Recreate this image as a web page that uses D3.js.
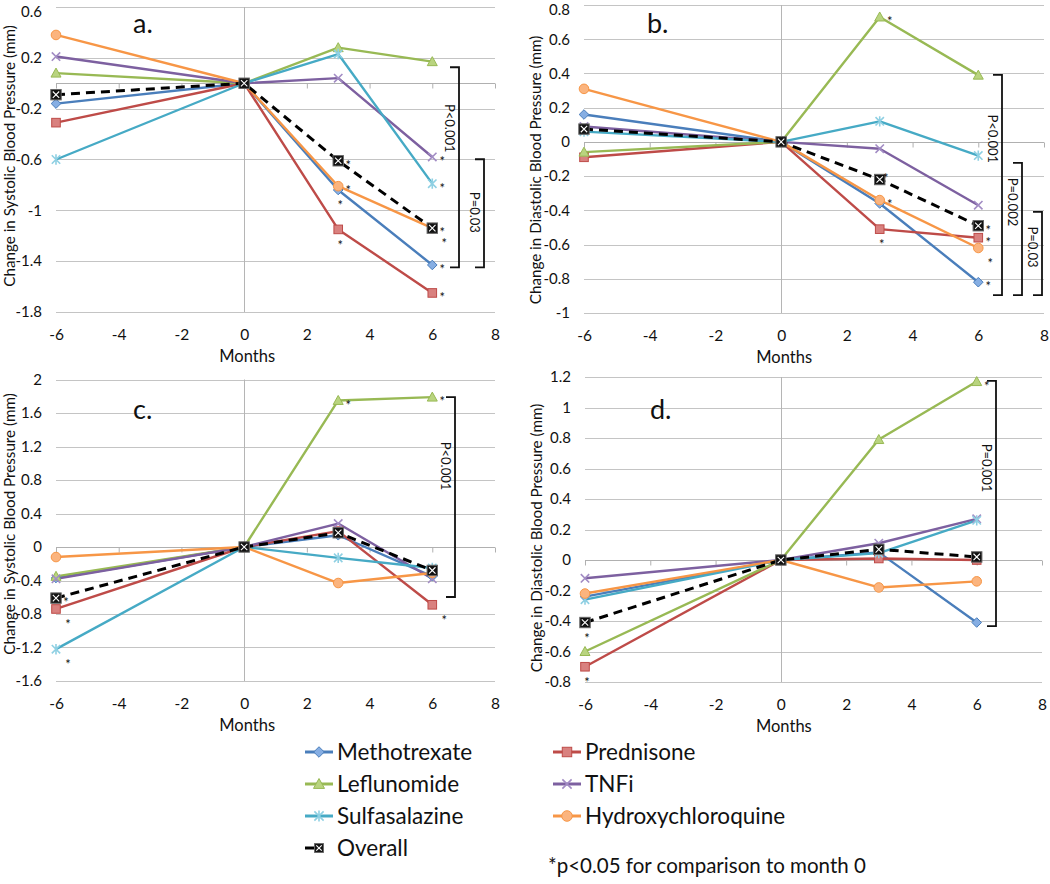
<!DOCTYPE html>
<html>
<head>
<meta charset="utf-8">
<script src="https://cdn.jsdelivr.net/npm/d3@7"></script>
<style>
  html, body { margin: 0; padding: 0; background: #fff; }
  svg { display: block; font-family: Lato, "Open Sans", sans-serif; }
</style>
</head>
<body>
<svg id="chart" width="1050" height="884"></svg>
<script>
// ---------------- DATA ----------------
const months = [-6, 0, 3, 6];
const xTicks = [-6, -4, -2, 0, 2, 4, 6, 8];
const series = ["Methotrexate", "Prednisone", "Leflunomide", "TNFi", "Sulfasalazine", "Hydroxychloroquine", "Overall"];

// Panel a: Systolic, rows follow `series`
const valuesA = [
  [-0.16, 0, -0.84, -1.43],
  [-0.31, 0, -1.15, -1.65],
  [0.08, 0, 0.28, 0.17],
  [0.21, 0, 0.04, -0.58],
  [-0.60, 0, 0.23, -0.79],
  [0.38, 0, -0.81, -1.14],
  [-0.09, 0, -0.61, -1.14]
];
// Panel b: Diastolic
const valuesB = [
  [0.16, 0, -0.36, -0.82],
  [-0.09, 0, -0.51, -0.56],
  [-0.06, 0, 0.73, 0.39],
  [0.09, 0, -0.04, -0.37],
  [0.06, 0, 0.12, -0.08],
  [0.31, 0, -0.34, -0.62],
  [0.075, 0, -0.22, -0.49]
];
// Panel c: Systolic
const valuesC = [
  [-0.37, 0, 0.14, -0.35],
  [-0.74, 0, 0.19, -0.69],
  [-0.35, 0, 1.75, 1.79],
  [-0.38, 0, 0.28, -0.38],
  [-1.22, 0, -0.13, -0.25],
  [-0.12, 0, -0.43, -0.31],
  [-0.61, 0, 0.17, -0.28]
];
// Panel d: Diastolic
const valuesD = [
  [-0.24, 0, 0.05, -0.41],
  [-0.70, 0, 0.01, 0.00],
  [-0.60, 0, 0.79, 1.17],
  [-0.12, 0, 0.11, 0.27],
  [-0.26, 0, 0.045, 0.26],
  [-0.22, 0, -0.18, -0.14],
  [-0.41, 0, 0.07, 0.02]
];

const yTicksA = [-1.8, -1.4, -1, -0.6, -0.2, 0.2, 0.6];
const yTicksB = [-1, -0.8, -0.6, -0.4, -0.2, 0, 0.2, 0.4, 0.6, 0.8];
const yTicksC = [-1.6, -1.2, -0.8, -0.4, 0, 0.4, 0.8, 1.2, 1.6, 2];
const yTicksD = [-0.8, -0.6, -0.4, -0.2, 0, 0.2, 0.4, 0.6, 0.8, 1, 1.2];

// significant points (*): [series index, month, side]
const sigA = [[6, 3, "r"], [5, 3, "r"], [0, 3, "b"], [1, 3, "b"], [3, 6, "r"], [4, 6, "r"], [6, 6, "r"], [5, 6, "rb"], [0, 6, "r"], [1, 6, "r"]];
const sigB = [[2, 3, "r"], [6, 3, "ru"], [5, 3, "r"], [1, 3, "b"], [6, 6, "r"], [1, 6, "r"], [5, 6, "rb"], [0, 6, "r"]];
const sigC = [[6, -6, "r"], [1, -6, "rb"], [4, -6, "rb"], [2, 3, "r"], [2, 6, "r"], [1, 6, "rb"]];
const sigD = [[6, -6, "b"], [1, -6, "b"], [2, 6, "r"]];

// brackets: [label, top value, bottom value, label centre value, level]
const bracketsA = [["P<0.001", 0.126, -1.449, -0.354, 0], ["P=0.03", -0.598, -1.449, -1.016, 1]];
const bracketsB = [["P<0.001", 0.392, -0.895, 0.018, 0], ["P=0.002", -0.123, -0.895, -0.351, 1], ["P=0.03", -0.409, -0.895, -0.614, 2]];
const bracketsC = [["P<0.001", 1.79, -0.597, 0.967, 0]];
const bracketsD = [["P=0.001", 1.174, -0.433, 0.603, 0]];

const yTitles = ["Change in Systolic Blood Pressure (mm)", "Change in Diastolic Blood Pressure (mm)",
                 "Change in Systolic Blood Pressure (mm)", "Change in Diastolic Blood Pressure (mm)"];
const panelLetters = ["a.", "b.", "c.", "d."];
const xTitle = "Months";
const footnote = "*p<0.05 for comparison to month 0";

// ---------------- STYLE ----------------
const lineColors = ["#4a7ebb", "#be4b48", "#98b954", "#7d60a0", "#46aac5", "#f79646", "#000000"];
const fillColors = ["#86aee3", "#d9817f", "#b9d47f", "#a28cc4", "#8fd0e3", "#fbb47e", "#000000"];
const markerTypes = ["diamond", "square", "triangle", "x", "asterisk", "circle", "overall"];

const panels = [
  { values: valuesA, ticks: yTicksA, sig: sigA, br: bracketsA, x0: 56, x1: 495, yTop: 7, yBot: 312, brX0: 459, brStep: 25, titleX: 10, titleY: 156, letter: [133, 33] },
  { values: valuesB, ticks: yTicksB, sig: sigB, br: bracketsB, x0: 584, x1: 1044, yTop: 5, yBot: 313, brX0: 1002, brStep: 20, titleX: 536, titleY: 170, letter: [647, 33] },
  { values: valuesC, ticks: yTicksC, sig: sigC, br: bracketsC, x0: 56, x1: 495, yTop: 379.5, yBot: 681, brX0: 455, brStep: 20, titleX: 10, titleY: 524, letter: [133, 419] },
  { values: valuesD, ticks: yTicksD, sig: sigD, br: bracketsD, x0: 585, x1: 1042, yTop: 377, yBot: 682, brX0: 996, brStep: 20, titleX: 537, titleY: 538, letter: [650, 419] }
];

const svg = d3.select("#chart");

function drawMarker(g, type, x, y, i, s) {
  s = s || 1;
  const stroke = lineColors[i], fill = fillColors[i];
  if (type === "diamond") {
    const r = 4.8 * s;
    g.append("path").attr("d", `M${x},${y - r}L${x + r},${y}L${x},${y + r}L${x - r},${y}Z`)
      .attr("fill", fill).attr("stroke", stroke).attr("stroke-width", 1);
  } else if (type === "square") {
    const r = 4.3 * s;
    g.append("rect").attr("x", x - r).attr("y", y - r).attr("width", 2 * r).attr("height", 2 * r)
      .attr("fill", fill).attr("stroke", stroke).attr("stroke-width", 1);
  } else if (type === "triangle") {
    const r = 5 * s;
    g.append("path").attr("d", `M${x},${y - r}L${x + r},${y + r * 0.8}L${x - r},${y + r * 0.8}Z`)
      .attr("fill", fill).attr("stroke", stroke).attr("stroke-width", 1);
  } else if (type === "x") {
    const r = 4.2 * s;
    g.append("path").attr("d", `M${x - r},${y - r}L${x + r},${y + r}M${x - r},${y + r}L${x + r},${y - r}`)
      .attr("stroke", fill).attr("stroke-width", 1.6).attr("fill", "none");
  } else if (type === "asterisk") {
    const r = 4.2 * s;
    g.append("path").attr("d", `M${x - r},${y - r}L${x + r},${y + r}M${x - r},${y + r}L${x + r},${y - r}M${x},${y - r - 1}L${x},${y + r + 1}`)
      .attr("stroke", fill).attr("stroke-width", 1.6).attr("fill", "none");
  } else if (type === "circle") {
    g.append("circle").attr("cx", x).attr("cy", y).attr("r", 4.8 * s)
      .attr("fill", fill).attr("stroke", stroke).attr("stroke-width", 1);
  } else if (type === "overall") {
    const r = 5.2 * s, q = 3.2 * s;
    g.append("rect").attr("x", x - r).attr("y", y - r).attr("width", 2 * r).attr("height", 2 * r)
      .attr("fill", "#111").attr("stroke", "#666").attr("stroke-width", 1);
    g.append("path").attr("d", `M${x - q},${y - q}L${x + q},${y + q}M${x - q},${y + q}L${x + q},${y - q}`)
      .attr("stroke", "#fff").attr("stroke-width", 1.1);
  }
}

const fmt = v => String(Math.round(v * 10) / 10);

panels.forEach((p, pi) => {
  const x = d3.scaleLinear().domain([-6, 8]).range([p.x0, p.x1]);
  const y = d3.scaleLinear().domain([p.ticks[0], p.ticks[p.ticks.length - 1]]).range([p.yBot, p.yTop]);
  const g = svg.append("g");

  // horizontal gridlines
  g.append("g").selectAll("line").data(p.ticks).join("line")
    .attr("x1", p.x0).attr("x2", p.x1)
    .attr("y1", d => Math.round(y(d)) + 0.5).attr("y2", d => Math.round(y(d)) + 0.5)
    .attr("stroke", "#c4c4c4").attr("stroke-width", 1);

  // y tick labels via axis
  const yAxis = d3.axisLeft(y).tickValues(p.ticks).tickFormat(fmt).tickSize(0).tickPadding(14);
  const ya = g.append("g").attr("transform", `translate(${p.x0},0)`).call(yAxis);
  ya.select(".domain").remove();
  ya.selectAll("text").attr("font-size", 15).attr("fill", "#111").attr("font-family", "Lato, sans-serif");
  ya.selectAll(".tick").filter(d => y(d) < 8).select("text").attr("dy", "0.62em");

  // vertical line at month 0
  g.append("line").attr("x1", Math.round(x(0)) + 0.5).attr("x2", Math.round(x(0)) + 0.5)
    .attr("y1", p.yTop).attr("y2", p.yBot).attr("stroke", "#b5b5b5").attr("stroke-width", 1);

  // horizontal axis at 0 with ticks
  const zeroY = Math.round(y(0)) + 0.5;
  const xAxis = d3.axisBottom(x).tickValues(xTicks).tickSize(5).tickFormat("");
  const xa = g.append("g").attr("transform", `translate(0,${zeroY})`).call(xAxis);
  xa.select(".domain").attr("d", `M${p.x0},0H${p.x1}`).attr("stroke", "#b0b0b0");
  xa.selectAll(".tick line").attr("stroke", "#b0b0b0");

  // x tick labels at bottom
  const xl = g.append("g").attr("transform", `translate(0,${p.yBot + 23})`)
    .call(d3.axisBottom(x).tickValues(xTicks).tickSize(0).tickPadding(0).tickFormat(d => String(d)));
  xl.select(".domain").remove();
  xl.selectAll("text").attr("dy", "0.35em").attr("font-size", 15.5).attr("fill", "#111").attr("font-family", "Lato, sans-serif");

  // x title
  g.append("text").attr("x", x(0) + 3).attr("y", p.yBot + 44).attr("dy", "0.35em")
    .attr("text-anchor", "middle").attr("font-size", 16.5).attr("fill", "#111").text(xTitle);

  // y title
  g.append("text").attr("transform", `translate(${p.titleX},${p.titleY}) rotate(-90)`)
    .attr("dy", "0.35em").attr("text-anchor", "middle").attr("font-size", 15.2).attr("fill", "#111")
    .text(yTitles[pi]);

  // panel letter
  g.append("text").attr("x", p.letter[0]).attr("y", p.letter[1]).attr("font-size", 27).attr("fill", "#111")
    .text(panelLetters[pi]);

  // series lines
  const line = d3.line().x((d, j) => x(months[j])).y(d => y(d));
  p.values.forEach((vals, i) => {
    const isOverall = series[i] === "Overall";
    g.append("path").datum(vals).attr("d", line).attr("fill", "none")
      .attr("stroke", lineColors[i]).attr("stroke-width", isOverall ? 3 : 2.4)
      .attr("stroke-dasharray", isOverall ? "9,6" : null)
      .attr("stroke-linejoin", "round");
  });
  // markers
  p.values.forEach((vals, i) => {
    const mg = g.append("g");
    vals.forEach((v, j) => drawMarker(mg, markerTypes[i], x(months[j]), y(v), i));
  });

  // significance asterisks
  const off = { r: [10, 2], rb: [12, 13], b: [2, 13], ru: [6, -4] };
  g.append("g").selectAll("text").data(p.sig).join("text")
    .attr("x", d => x(d[1]) + off[d[2]][0])
    .attr("y", d => y(p.values[d[0]][months.indexOf(d[1])]) + off[d[2]][1])
    .attr("dy", "0.55em").attr("text-anchor", "middle").attr("font-size", 13).attr("fill", "#111")
    .text("*");

  // brackets
  p.br.forEach(b => {
    const bx = p.brX0 + b[4] * p.brStep;
    const t = y(b[1]), bt = y(b[2]);
    g.append("path").attr("d", `M${bx - 9},${t}H${bx}V${bt}H${bx - 9}`)
      .attr("fill", "none").attr("stroke", "#111").attr("stroke-width", 1.8);
    g.append("text").attr("transform", `translate(${bx - 9},${y(b[3])}) rotate(90)`)
      .attr("text-anchor", "middle").attr("dy", "0.35em").attr("font-size", 13).attr("fill", "#111")
      .text(b[0]);
  });
});

// ---------------- LEGEND ----------------
const legendOrder = [0, 2, 4, 6, 1, 3, 5];
const legendCols = [[305, 337], [553, 585]];
const legendRows = [752, 784, 816, 848];
const lg = svg.append("g");
legendOrder.forEach((si, k) => {
  const col = k < 4 ? 0 : 1;
  const row = k < 4 ? k : k - 4;
  const [lx, tx] = legendCols[col];
  const ly = legendRows[row];
  if (series[si] === "Overall") {
    lg.append("line").attr("x1", lx).attr("x2", lx + 9).attr("y1", ly).attr("y2", ly)
      .attr("stroke", "#000").attr("stroke-width", 3);
    drawMarker(lg, "overall", lx + 14, ly, si, 0.85);
  } else {
    lg.append("line").attr("x1", lx).attr("x2", lx + 28).attr("y1", ly).attr("y2", ly)
      .attr("stroke", lineColors[si]).attr("stroke-width", 3);
    drawMarker(lg, markerTypes[si], lx + 14, ly, si, 1.1);
  }
  lg.append("text").attr("x", tx).attr("y", ly).attr("dy", "0.36em").attr("font-size", 22.5)
    .attr("fill", "#111").text(series[si]);
});
lg.append("text").attr("x", 548).attr("y", 866).attr("dy", "0.36em").attr("font-size", 20.5)
  .attr("fill", "#111").text(footnote);
</script>
</body>
</html>
